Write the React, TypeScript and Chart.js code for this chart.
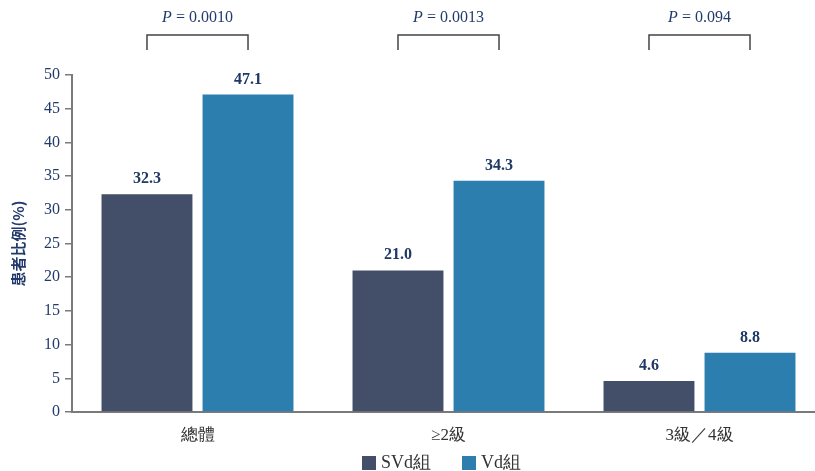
import React, { useEffect, useRef } from "react";
import { Chart, registerables } from "chart.js";

Chart.register(...registerables);

const categories = ["總體", "≥2級", "3級／4級"];
const svdValues = [32.3, 21.0, 4.6];
const vdValues = [47.1, 34.3, 8.8];
const seriesNames = ["SVd組", "Vd組"];
const pValues = ["0.0010", "0.0013", "0.094"];
const yTicks = [0, 5, 10, 15, 20, 25, 30, 35, 40, 45, 50];

const SVD_COLOR = "#434f69";
const VD_COLOR = "#2b7eae";
const NAVY = "#223a6b";
const SERIF = "'Liberation Serif', 'Times New Roman', serif";

const overlayPlugin = {
  id: "overlay",
  afterDatasetsDraw(chart: any) {
    const ctx = chart.ctx;
    const m0 = chart.getDatasetMeta(0);
    const m1 = chart.getDatasetMeta(1);
    ctx.save();
    // value labels
    ctx.font = `bold 16px ${SERIF}`;
    ctx.fillStyle = "#1f3864";
    ctx.textAlign = "center";
    ctx.textBaseline = "alphabetic";
    [m0, m1].forEach((meta: any, di: number) => {
      meta.data.forEach((bar: any, i: number) => {
        const v = chart.data.datasets[di].data[i];
        ctx.fillText(Number(v).toFixed(1), bar.x, bar.y - 11);
      });
    });
    // brackets and P values
    categories.forEach((_, i) => {
      const x1 = m0.data[i].x;
      const x2 = m1.data[i].x;
      ctx.strokeStyle = "#444";
      ctx.lineWidth = 1.5;
      ctx.beginPath();
      ctx.moveTo(x1, 50);
      ctx.lineTo(x1, 35);
      ctx.lineTo(x2, 35);
      ctx.lineTo(x2, 50);
      ctx.stroke();
      const cx = (x1 + x2) / 2;
      const pPart = "P";
      const rest = " = " + pValues[i];
      ctx.font = `italic 16px ${SERIF}`;
      const w1 = ctx.measureText(pPart).width;
      ctx.font = `16px ${SERIF}`;
      const w2 = ctx.measureText(rest).width;
      const start = cx - (w1 + w2) / 2;
      ctx.fillStyle = NAVY;
      ctx.textAlign = "left";
      ctx.textBaseline = "middle";
      ctx.font = `italic 16px ${SERIF}`;
      ctx.fillText(pPart, start, 18);
      ctx.font = `16px ${SERIF}`;
      ctx.fillText(rest, start + w1, 18);
    });
    // legend
    const colors = [SVD_COLOR, VD_COLOR];
    const xs = [362, 462];
    ctx.font = `18px ${SERIF}`;
    ctx.textBaseline = "middle";
    ctx.textAlign = "left";
    seriesNames.forEach((name, i) => {
      ctx.fillStyle = colors[i];
      ctx.fillRect(xs[i], 456, 14, 14);
      ctx.fillStyle = "#333";
      ctx.fillText(name, xs[i] + 19, 463);
    });
    ctx.restore();
  },
};

export default function App() {
  const ref = useRef<HTMLCanvasElement | null>(null);
  useEffect(() => {
    document.body.style.margin = "0";
    document.body.style.overflow = "hidden";
    const chart = new Chart(ref.current as HTMLCanvasElement, {
      type: "bar",
      data: {
        labels: categories,
        datasets: [
          { label: seriesNames[0], data: svdValues, backgroundColor: SVD_COLOR },
          { label: seriesNames[1], data: vdValues, backgroundColor: VD_COLOR },
        ],
      },
      options: {
        animation: false,
        responsive: false,
        maintainAspectRatio: false,
        layout: { padding: { left: 0, right: 5, top: 75, bottom: 0 } },
        plugins: { legend: { display: false }, tooltip: { enabled: false } },
        datasets: { bar: { categoryPercentage: 0.805, barPercentage: 0.9 } },
        scales: {
          x: {
            offset: true,
            grid: { display: false },
            border: { display: true, color: "#7a7a7a", width: 2 },
            ticks: { color: "#333", font: { family: SERIF, size: 17 }, padding: 5 },
            afterFit: (s: any) => { s.height = 59; },
          },
          y: {
            min: 0,
            max: 50,
            afterBuildTicks: (s: any) => { s.ticks = yTicks.map((v) => ({ value: v })); },
            grid: { drawOnChartArea: false, drawTicks: true, tickLength: 7, color: "#7a7a7a", lineWidth: 1.5 },
            border: { display: true, color: "#7a7a7a", width: 2 },
            ticks: { color: NAVY, font: { family: SERIF, size: 16 }, padding: 5 },
            title: {
              display: true,
              text: "患者比例(%)",
              color: NAVY,
              font: { family: "'Noto Sans CJK TC', sans-serif", size: 15, weight: "bold" },
              padding: { top: 9, bottom: 0 },
            },
            afterFit: (s: any) => { s.width = 72; },
          },
        },
      },
      plugins: [overlayPlugin],
    } as any);
    return () => chart.destroy();
  }, []);
  return (
    <div style={{ position: "fixed", left: 0, top: 0, width: 815, height: 471, overflow: "hidden" }}>
      <canvas ref={ref} width={830} height={471} style={{ display: "block" }} />
    </div>
  );
}
